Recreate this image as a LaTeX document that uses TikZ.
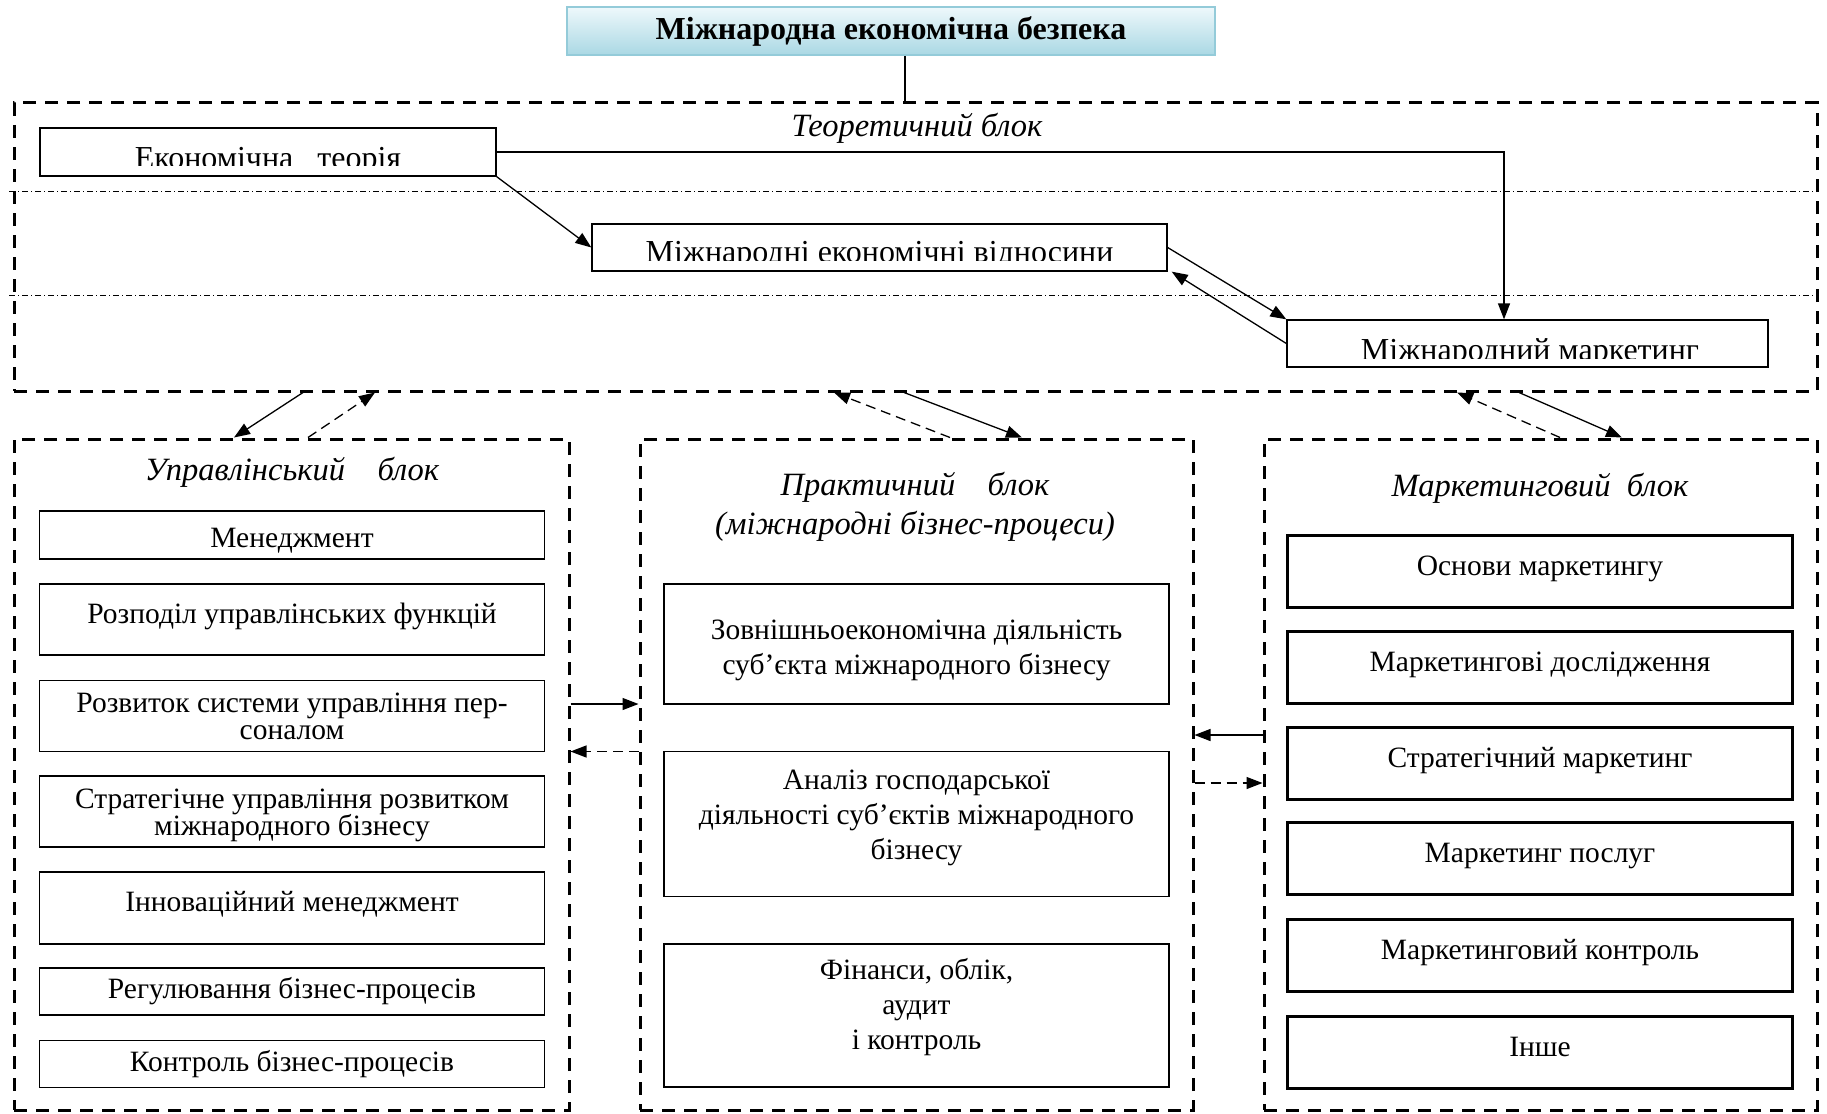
\documentclass[tikz,border=0pt]{standalone}
\usepackage{fontspec}
\setmainfont{Liberation Serif}
\usetikzlibrary{arrows.meta}
\definecolor{ttop}{HTML}{EEF8FB}
\definecolor{tbot}{HTML}{AAD8E4}
\definecolor{tline}{HTML}{94CBD9}
\newcommand\tightlines{\lineskiplimit=-20pt\relax}
\begin{document}
\begin{tikzpicture}[x=1pt,y=-1pt,
  box/.style={draw,line width=1.3pt,inner sep=0pt,align=center,font=\fontsize{29.5}{35}\selectfont},
  lbox/.style={box,minimum width=505pt,font=\fontsize{29.5}{27}\selectfont\tightlines},
  pbox/.style={box,minimum width=505pt},
  kbox/.style={box,line width=3pt,minimum width=505pt,minimum height=72pt,text height=21pt,text depth=13pt},
  blk/.style={draw,line width=3pt,dash pattern=on 13pt off 9pt,inner sep=0pt},
  hd/.style={font=\fontsize{32.5}{38.5}\selectfont\itshape,align=center,inner sep=0pt},
  tx/.style={font=\fontsize{32}{38}\selectfont,inner sep=0pt,anchor=base},
  ar/.style={line width=1.3pt,-{Triangle[length=16pt,width=12pt]}},
  dar/.style={ar,dash pattern=on 10pt off 6pt},
  sep/.style={line width=0.8pt,dash pattern=on 6pt off 3pt on 1pt off 3pt}]
\path[fill=white,use as bounding box] (0,0) rectangle (1827,1113);

% containers
\node[blk,minimum width=1803pt,minimum height=288pt] (theo) at (915.5,247) {};
\node[blk,minimum width=555pt,minimum height=671pt] (ub) at (291.5,774.5) {};
\node[blk,minimum width=553pt,minimum height=671pt] (pb) at (916.5,774.5) {};
\node[blk,minimum width=553pt,minimum height=671pt] (kb) at (1540.5,774.5) {};

% top
\node[draw=tline,line width=2pt,top color=ttop,bottom color=tbot,minimum width=648pt,minimum height=48pt,
  font=\fontsize{32}{38}\selectfont\bfseries] (title) at (891,31) {Міжнародна економічна безпека};
\coordinate (tj) at (905,103);
\draw[line width=1.3pt] (tj |- title.south) to (tj);

% theoretical block
\node[hd] (tt) at (917,128) {Теоретичний блок};
\draw[sep] (9,191) -- (1817,191);
\draw[sep] (9,295) -- (1817,295);

\node[box,minimum width=456pt,minimum height=48pt] (et) at (268,152) {};
\node[box,minimum width=575pt,minimum height=47pt] (mev) at (879.5,247.5) {};
\node[box,minimum width=481pt,minimum height=47pt] (mm) at (1527.5,343.5) {};
\begin{scope}
  \clip (et.north west) rectangle (et.east |- 0,165);
  \node[tx] (et-t) at (268,168) {Економічна\ \ \ теорія};
\end{scope}
\begin{scope}
  \clip (mev.north west) rectangle (mev.east |- 0,260);
  \node[tx] (mev-t) at (879.5,262) {Міжнародні економічні відносини};
\end{scope}
\begin{scope}
  \clip (mm.north west) rectangle (mm.east |- 0,358);
  \node[tx] (mm-t) at (1530,360) {Міжнародний маркетинг};
\end{scope}

\draw[ar] (et.south east) to (mev.west);
\draw[ar] (et.east) -| ([xshift=-23.5pt]mm.north);
\draw[ar] (mev.east) to (mm.north west);
\draw[ar] (mm.west) to ([xshift=4pt]mev.south east);

% links between blocks
\draw[ar] (theo.south -| 303,0) to (ub.north -| 234,0);
\draw[dar] (ub.north -| 308,0) to (theo.south -| 375,0);
\draw[dar] (pb.north -| 950,0) to (theo.south -| 834,0);
\draw[ar] (theo.south -| 904,0) to (pb.north -| 1022,0);
\draw[dar] (kb.north -| 1560,0) to (theo.south -| 1457,0);
\draw[ar] (theo.south -| 1519,0) to (kb.north -| 1622,0);

\draw[ar] (ub.east |- 0,704) to (pb.west |- 0,704);
\draw[dar] (pb.west |- 0,751.5) to (ub.east |- 0,751.5);
\draw[ar] (kb.west |- 0,735) to (pb.east |- 0,735);
\draw[dar] (pb.east |- 0,783) to (kb.west |- 0,783);

% management block
\node[hd] (ut) at (292,472) {Управлінський\ \ \ \ блок};
\node[lbox,minimum height=48pt,text height=25pt,text depth=0pt] (m1) at (292,535) {Менеджмент};
\node[lbox,minimum height=71pt,text height=21pt,text depth=13.5pt] (m2) at (292,619.5) {Розподіл управлінських функцій};
\node[lbox,minimum height=71pt] (m3) at (292,716) {Розвиток системи управління пер-\\соналом};
\node[lbox,minimum height=71pt,text height=48pt,text depth=0.5pt] (m4) at (292,811.5) {Стратегічне управління розвитком\\міжнародного бізнесу};
\node[lbox,minimum height=72pt,text height=21pt,text depth=13.5pt] (m5) at (292,908) {Інноваційний менеджмент};
\node[lbox,minimum height=47pt] (m6) at (292,991.5) {Регулювання бізнес-процесів};
\node[lbox,minimum height=47pt] (m7) at (292,1064) {Контроль бізнес-процесів};

% practical block
\node[hd] (pt) at (915,507) {Практичний\ \ \ \ блок\\(міжнародні бізнес-процеси)};
\node[pbox,minimum height=120pt,text height=60pt,text depth=0pt] (p1) at (916.5,644) {Зовнішньоекономічна діяльність\\суб’єкта міжнародного бізнесу};
\node[pbox,minimum height=144.5pt,text height=91pt,text depth=20pt] (p2) at (916.5,824) {Аналіз господарської\\діяльності суб’єктів міжнародного\\бізнесу};
\node[pbox,minimum height=143pt,text height=91pt,text depth=24pt] (p3) at (916.5,1015.5) {Фінанси, облік,\\аудит\\і контроль};

% marketing block
\node[hd] (kt) at (1540,488) {Маркетинговий\ \ блок};
\node[kbox] (k1) at (1540,571) {Основи маркетингу};
\node[kbox] (k2) at (1540,667.5) {Маркетингові дослідження};
\node[kbox] (k3) at (1540,763) {Стратегічний маркетинг};
\node[kbox] (k4) at (1540,858.5) {Маркетинг послуг};
\node[kbox] (k5) at (1540,955) {Маркетинговий контроль};
\node[kbox] (k6) at (1540,1052) {Інше};
\end{tikzpicture}
\end{document}
